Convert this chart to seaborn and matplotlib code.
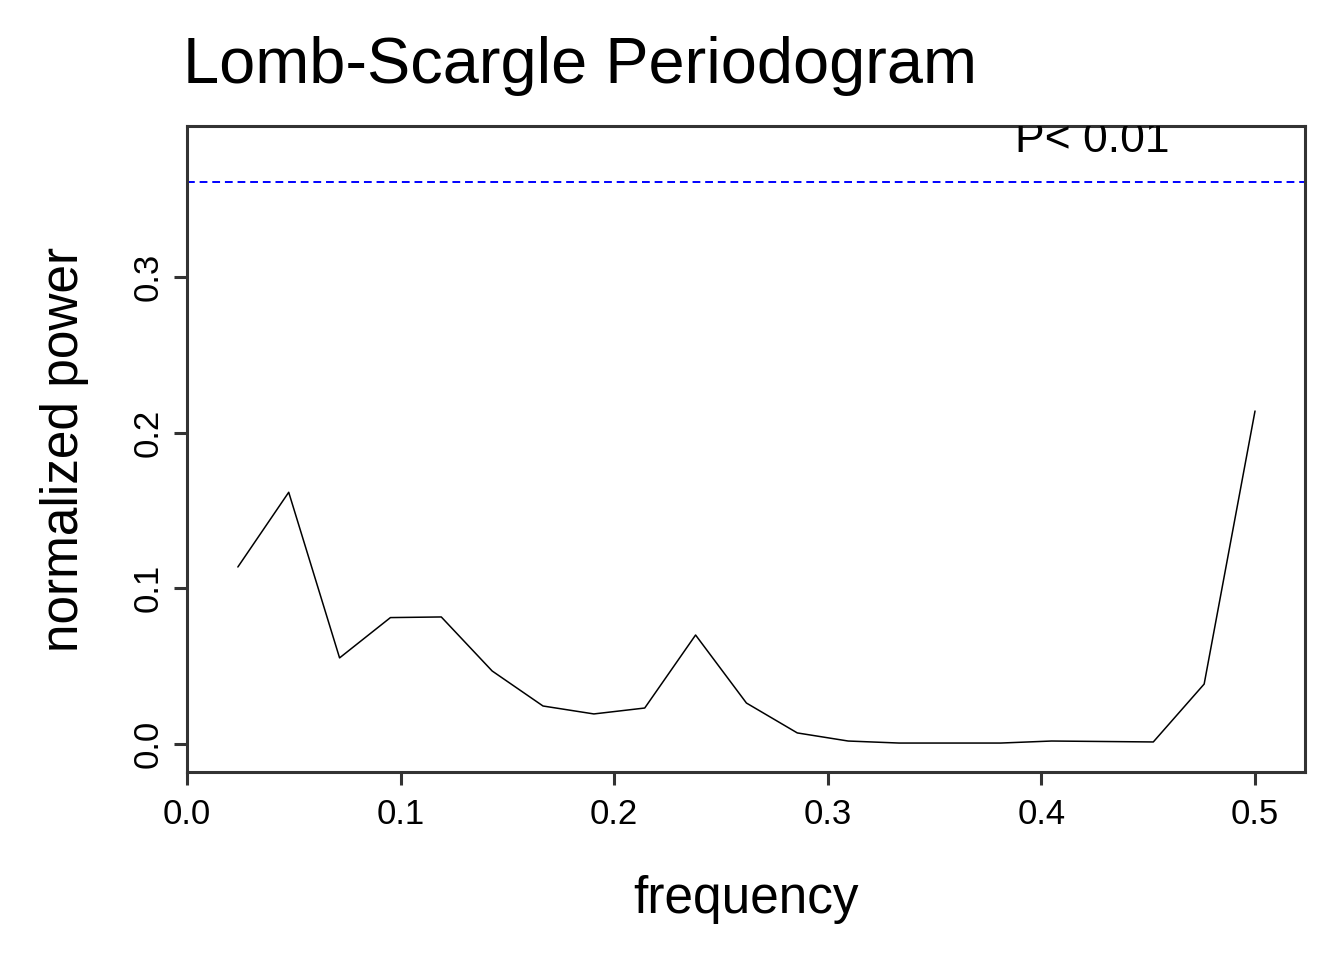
import matplotlib
matplotlib.use("Agg")
import matplotlib.pyplot as plt
import seaborn as sns
import pandas as pd

# Lomb-Scargle periodogram values
frequency = [1/42, 2/42, 3/42, 4/42, 5/42, 6/42, 7/42, 8/42, 9/42, 10/42, 11/42,
             12/42, 13/42, 14/42, 15/42, 16/42, 17/42, 18/42, 19/42, 20/42, 21/42]
power = [0.1137, 0.1617, 0.0553, 0.0812, 0.0816, 0.0469, 0.0244, 0.0193, 0.0231,
         0.0700, 0.0263, 0.0071, 0.0019, 0.0006, 0.0006, 0.0006, 0.0019, 0.0016,
         0.0013, 0.0385, 0.2139]
sig_level = 0.361
sig_label = "P< 0.01"
x_ticks = [0.0, 0.1, 0.2, 0.3, 0.4, 0.5]
y_ticks = [0.0, 0.1, 0.2, 0.3]

df = pd.DataFrame({"frequency": frequency, "power": power})

sns.set_style("white")
plt.rcParams["font.family"] = ["Liberation Sans", "DejaVu Sans"]
plt.rcParams["text.color"] = "black"
plt.rcParams["axes.labelcolor"] = "black"
plt.rcParams["xtick.labelcolor"] = "black"
plt.rcParams["ytick.labelcolor"] = "black"

dark = "#333333"
fig = plt.figure(figsize=(13.44, 9.6), dpi=100)
ax = fig.add_axes([187 / 1344, 1 - 772 / 960, 1118 / 1344, 646 / 960])

sns.lineplot(data=df, x="frequency", y="power", color="black", linewidth=1.1, ax=ax)
ax.axhline(sig_level, color="blue", linewidth=1.4, linestyle=(0, (4, 2.5)))
ax.text(0.4237, 0.38, sig_label, fontsize=32, ha="center", va="baseline",
        color="black", clip_on=True)

ax.set_xlim(0, 0.5234)
ax.set_ylim(-0.018, 0.397)
ax.set_xticks(x_ticks)
ax.set_xticklabels([f"{t:.1f}" for t in x_ticks])
ax.set_yticks(y_ticks)
ax.set_yticklabels([f"{t:.1f}" for t in y_ticks], rotation=90, va="center")

for s in ax.spines.values():
    s.set_color(dark)
    s.set_linewidth(2.2)
ax.tick_params(axis="both", direction="out", length=9.5, width=2.2, color=dark,
               labelsize=25, labelcolor="black", bottom=True, left=True)
ax.tick_params(axis="x", pad=9.5)
ax.tick_params(axis="y", pad=6.5)

ax.set_xlabel("frequency", fontsize=37)
ax.set_ylabel("normalized power", fontsize=37)
ax.xaxis.set_label_coords(0.5, -0.197)
ax.xaxis.label.set_va("center")
ax.yaxis.set_label_coords(-0.11, 0.5)
ax.yaxis.label.set_va("center")

fig.text(183 / 1344, 1 - 83 / 960, "Lomb-Scargle Periodogram", fontsize=46.7,
         ha="left", va="baseline", color="black")

fig.savefig("out.png", dpi=100, facecolor="white")
